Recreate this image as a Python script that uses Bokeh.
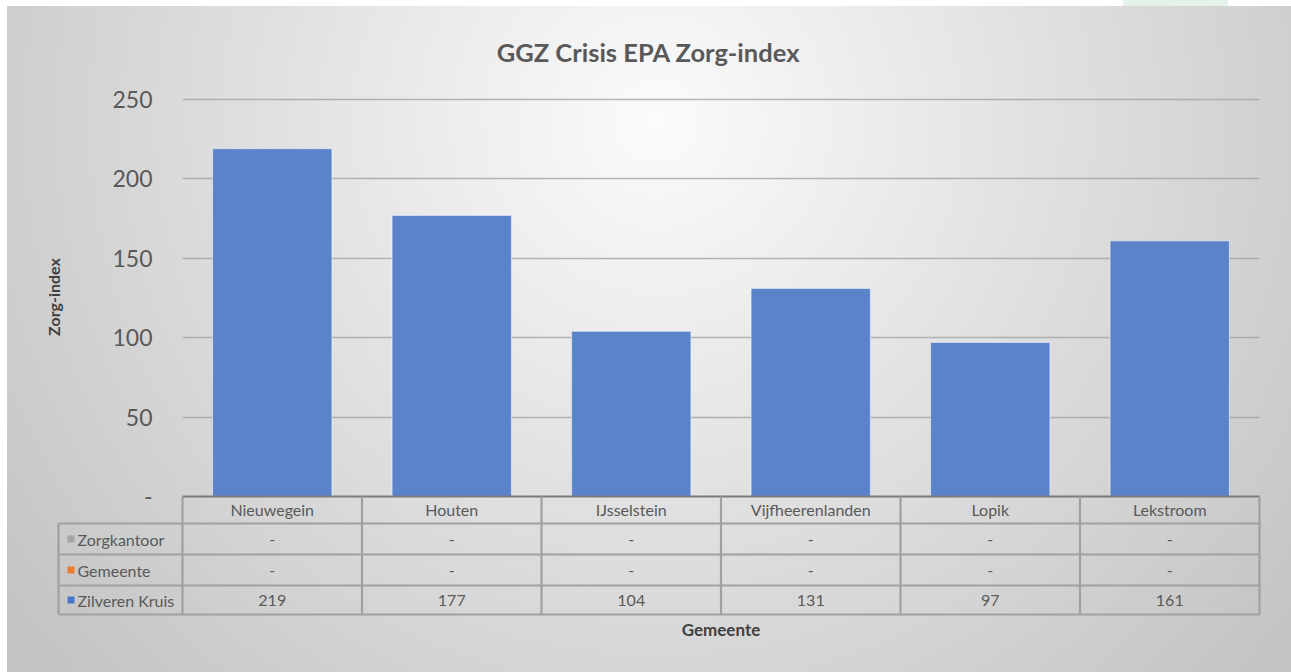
from bokeh.plotting import figure
from bokeh.models import FactorRange, Range1d, FixedTicker, ColumnDataSource
from bokeh.core.properties import value
from bokeh.embed import file_html
from bokeh.resources import INLINE

# ---- data ----
gemeenten = ["Nieuwegein", "Houten", "IJsselstein", "Vijfheerenlanden", "Lopik", "Lekstroom"]
series_names = ["Zorgkantoor", "Gemeente", "Zilveren Kruis"]
zorgkantoor = [0, 0, 0, 0, 0, 0]
gemeente = [0, 0, 0, 0, 0, 0]
zilveren_kruis = [219, 177, 104, 131, 97, 161]
y_ticks = [0, 50, 100, 150, 200, 250]
title_text = "GGZ Crisis EPA Zorg-index"
x_title = "Gemeente"
y_title = "Zorg-index"

# ---- style / layout ----
FONT = "Lato"
TXT = "#595959"
series_colors = ["#a5a5a5", "#ed7d31", "#4a78c8"]
bar_color = "#5b83c9"
W, H = 1291, 672
FRAME_L, FRAME_R, FRAME_B = 182, 1259, 496
PLOT_TOP = 99                        # pixel row of the 250 gridline
EXTRA_TOP = 2                        # keep the top gridline inside the frame
YMAX = 250
ppu = (FRAME_B - PLOT_TOP) / YMAX    # pixels per data unit
BL, BR, BT, BB = FRAME_L, W - FRAME_R, PLOT_TOP - EXTRA_TOP, H - FRAME_B
cat_px = (FRAME_R - FRAME_L) / len(gemeenten)
legend_col_px = 124                  # width of the legend column of the data table
row_edges_px = [0, 27, 58, 89, 118]  # below the plot frame: header + 3 rows

p = figure(x_range=FactorRange(*gemeenten), y_range=Range1d(0, YMAX + EXTRA_TOP / ppu),
           width=W, height=H, min_border_left=BL, min_border_right=BR,
           min_border_top=BT, min_border_bottom=BB,
           output_backend="svg", toolbar_location=None, tools="")
p.styles = {"background": (
    "linear-gradient(#e3f3ea,#e3f3ea) 1123px 0px / 105px 6px no-repeat, "
    "radial-gradient(circle 820px at 650px 115px, #fbfbfb 0%, #c3c3c3 100%) 7px 6px / 1284px 666px no-repeat, "
    "#ffffff")}
p.border_fill_color = None
p.background_fill_color = None
p.outline_line_color = None

# bars (stacked series; only Zilveren Kruis has values)
src = ColumnDataSource(dict(g=gemeenten, zk=zorgkantoor, gm=gemeente, zv=zilveren_kruis))
p.vbar_stack(["zk", "gm", "zv"], x="g", width=0.665, source=src,
             fill_color=[series_colors[0], series_colors[1], bar_color],
             line_color="white", line_alpha=0.45, line_width=1.2)

# grid
p.xgrid.grid_line_color = None
p.ygrid.ticker = FixedTicker(ticks=y_ticks)
p.ygrid.grid_line_color = "#a3a3a3"
p.ygrid.grid_line_alpha = 0.8
p.ygrid.grid_line_width = 1.6

# y axis
ya = p.yaxis[0]
ya.ticker = FixedTicker(ticks=y_ticks)
ya.major_label_overrides = {0: "-"}
ya.axis_line_color = None
ya.major_tick_line_color = None
ya.minor_tick_line_color = None
ya.major_tick_out = 0
ya.major_tick_in = 0
ya.major_label_standoff = 30
ya.major_label_text_font = FONT
ya.major_label_text_font_size = "23px"
ya.major_label_text_color = TXT
ya.axis_label = y_title
ya.axis_label_text_font = FONT
ya.axis_label_text_font_style = "bold"
ya.axis_label_text_font_size = "16px"
ya.axis_label_text_color = "#404040"
ya.axis_label_standoff = 46

# x axis (acts as header row of the data table)
xa = p.xaxis[0]
xa.axis_line_color = "#7a7a7a"
xa.axis_line_width = 2
xa.major_tick_line_color = None
xa.minor_tick_line_color = None
xa.major_tick_out = 0
xa.major_tick_in = 0
xa.major_label_standoff = 3
xa.major_label_text_font = FONT
xa.major_label_text_font_size = "16px"
xa.major_label_text_color = TXT
xa.axis_label = x_title
xa.axis_label_text_font = FONT
xa.axis_label_text_font_style = "bold"
xa.axis_label_text_font_size = "17px"
xa.axis_label_text_color = "#404040"
xa.axis_label_standoff = 97

# ---- data table under the plot ----
def y_of(px_below):
    return -px_below / ppu

x_leg = -legend_col_px / cat_px
n = len(gemeenten)
line_col = "#a0a0a0"

hx0, hx1, hy = [], [], []
for e in row_edges_px[1:]:
    hx0.append(x_leg); hx1.append(n); hy.append(y_of(e))
p.segment(x0=hx0, y0=hy, x1=hx1, y1=hy, line_color=line_col, line_width=2.2, level="overlay")
vx, vy0, vy1 = [x_leg], [y_of(row_edges_px[1])], [y_of(row_edges_px[-1])]
for k in range(n + 1):
    vx.append(k); vy0.append(y_of(row_edges_px[0])); vy1.append(y_of(row_edges_px[-1]))
p.segment(x0=vx, y0=vy0, x1=vx, y1=vy1, line_color=line_col, line_width=2.2, level="overlay")

rows = [zorgkantoor, gemeente, zilveren_kruis]
cx, cy, ct = [], [], []
for r, vals in enumerate(rows):
    yc = y_of((row_edges_px[r + 1] + row_edges_px[r + 2]) / 2)
    for g, v in zip(gemeenten, vals):
        cx.append(g); cy.append(yc); ct.append("-" if v == 0 else str(v))
p.text(x=cx, y=cy, text=ct, text_align="center", text_baseline="middle",
       text_font=value(FONT), text_font_size="16px", text_color=TXT, level="overlay")

# legend keys (short thick segments = squares) and names
ly = [y_of((row_edges_px[r + 1] + row_edges_px[r + 2]) / 2) for r in range(3)]
p.segment(x0=[x_leg + 9 / cat_px] * 3, y0=ly, x1=[x_leg + 16 / cat_px] * 3, y1=ly,
          line_color=series_colors, line_width=7, line_cap="butt", level="overlay")
p.text(x=[x_leg + 19 / cat_px] * 3, y=ly, text=series_names, text_align="left",
       text_baseline="middle", text_font=value(FONT), text_font_size="16px",
       text_color=TXT, level="overlay")

# title
p.text(x=[(648 - FRAME_L) / cat_px], y=[YMAX + (PLOT_TOP - 51) / ppu], text=[title_text],
       text_align="center", text_baseline="middle", text_font=value(FONT),
       text_font_style="bold", text_font_size="25.5px", text_color=TXT, level="overlay")

open("out.html", "w").write(file_html(p, INLINE))
